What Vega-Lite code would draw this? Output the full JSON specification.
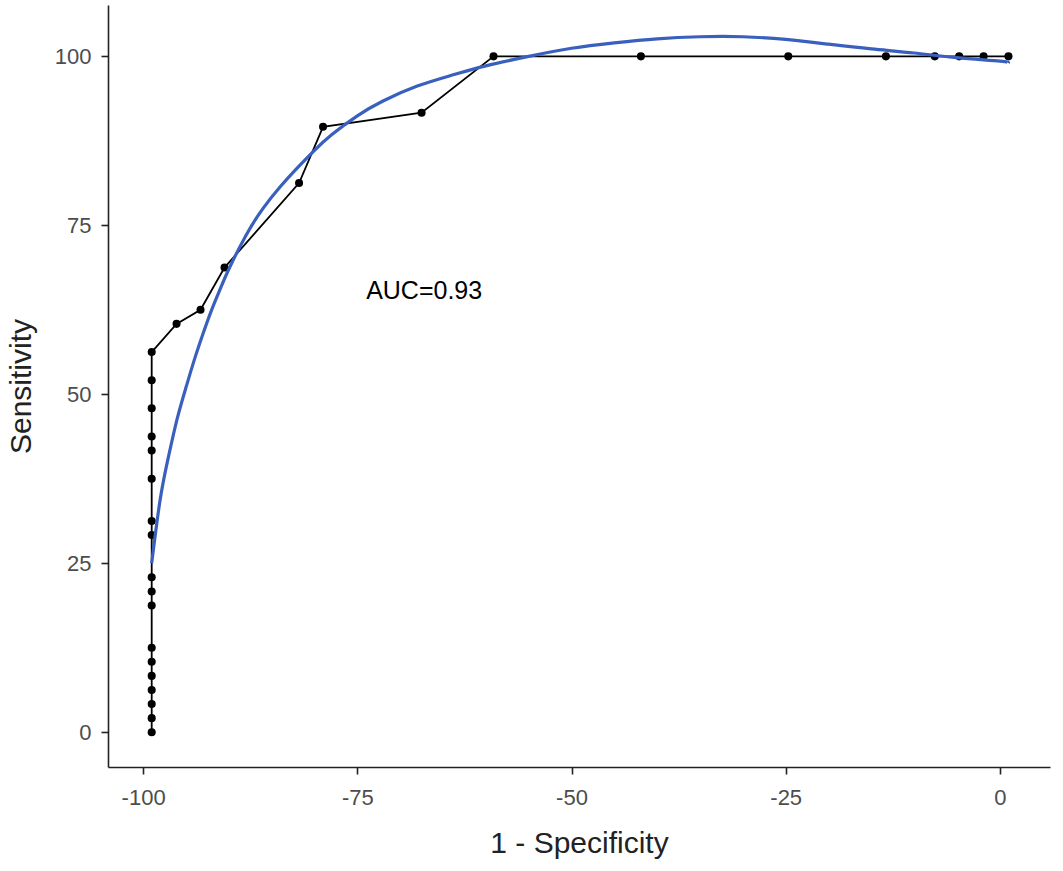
{
  "$schema": "https://vega.github.io/schema/vega-lite/v6.json",
  "autosize": "none",
  "width": 942,
  "height": 762,
  "padding": {"left": 108, "top": 5, "right": 13, "bottom": 104},
  "background": "white",
  "config": {
    "view": {"stroke": null},
    "font": "Liberation Sans",
    "axis": {
      "grid": false,
      "domainColor": "#222222",
      "domainWidth": 1.6,
      "tickColor": "#222222",
      "tickWidth": 1.6,
      "tickSize": 7,
      "labelColor": "#4d4d4d",
      "labelFontSize": 22,
      "titleFontSize": 30,
      "titleFontWeight": "normal",
      "titleColor": "#222222"
    }
  },
  "datasets": {
    "roc": [
      {"i": 1, "fpr": -99, "sens": 0},
      {"i": 2, "fpr": -99, "sens": 2.08},
      {"i": 3, "fpr": -99, "sens": 4.17},
      {"i": 4, "fpr": -99, "sens": 6.25},
      {"i": 5, "fpr": -99, "sens": 8.33},
      {"i": 6, "fpr": -99, "sens": 10.42},
      {"i": 7, "fpr": -99, "sens": 12.5},
      {"i": 8, "fpr": -99, "sens": 18.75},
      {"i": 9, "fpr": -99, "sens": 20.83},
      {"i": 10, "fpr": -99, "sens": 22.92},
      {"i": 11, "fpr": -99, "sens": 29.17},
      {"i": 12, "fpr": -99, "sens": 31.25},
      {"i": 13, "fpr": -99, "sens": 37.5},
      {"i": 14, "fpr": -99, "sens": 41.67},
      {"i": 15, "fpr": -99, "sens": 43.75},
      {"i": 16, "fpr": -99, "sens": 47.92},
      {"i": 17, "fpr": -99, "sens": 52.08},
      {"i": 18, "fpr": -99, "sens": 56.25},
      {"i": 19, "fpr": -96.1, "sens": 60.42},
      {"i": 20, "fpr": -93.3, "sens": 62.5},
      {"i": 21, "fpr": -90.5, "sens": 68.75},
      {"i": 22, "fpr": -81.8, "sens": 81.25},
      {"i": 23, "fpr": -79.0, "sens": 89.58},
      {"i": 24, "fpr": -67.5, "sens": 91.67},
      {"i": 25, "fpr": -59.1, "sens": 100},
      {"i": 26, "fpr": -41.9, "sens": 100},
      {"i": 27, "fpr": -24.7, "sens": 100},
      {"i": 28, "fpr": -13.3, "sens": 100},
      {"i": 29, "fpr": -7.6, "sens": 100},
      {"i": 30, "fpr": -4.75, "sens": 100},
      {"i": 31, "fpr": -1.9, "sens": 100},
      {"i": 32, "fpr": 1.0, "sens": 100}
    ],
    "smooth": [
      {"fpr": -99, "sens": 25},
      {"fpr": -98, "sens": 34.5},
      {"fpr": -97, "sens": 41},
      {"fpr": -96, "sens": 46.5},
      {"fpr": -95, "sens": 51},
      {"fpr": -94, "sens": 55.2},
      {"fpr": -93, "sens": 59},
      {"fpr": -92, "sens": 62.5},
      {"fpr": -91, "sens": 65.6},
      {"fpr": -90, "sens": 68.5},
      {"fpr": -88, "sens": 73.5},
      {"fpr": -86, "sens": 77.5},
      {"fpr": -84, "sens": 80.7},
      {"fpr": -82, "sens": 83.5},
      {"fpr": -80, "sens": 86.1},
      {"fpr": -78, "sens": 88.4},
      {"fpr": -75, "sens": 91.2},
      {"fpr": -72, "sens": 93.4},
      {"fpr": -68, "sens": 95.6},
      {"fpr": -64, "sens": 97.2},
      {"fpr": -60, "sens": 98.6},
      {"fpr": -55, "sens": 100},
      {"fpr": -50, "sens": 101.2},
      {"fpr": -45, "sens": 102.0},
      {"fpr": -40, "sens": 102.6},
      {"fpr": -35, "sens": 102.9},
      {"fpr": -30, "sens": 102.9},
      {"fpr": -25, "sens": 102.5},
      {"fpr": -20, "sens": 101.8},
      {"fpr": -15, "sens": 101.1},
      {"fpr": -10, "sens": 100.5},
      {"fpr": -5, "sens": 99.8},
      {"fpr": 0, "sens": 99.3},
      {"fpr": 1, "sens": 99.0}
    ]
  },
  "layer": [
    {
      "data": {"name": "roc"},
      "mark": {"type": "line", "color": "black", "strokeWidth": 1.8},
      "encoding": {
        "x": {"field": "fpr", "type": "quantitative", "scale": {"domain": [-104.1, 5.85], "nice": false, "zero": false},
              "axis": {"values": [-100, -75, -50, -25, 0], "labelExpr": "'' + datum.value", "labelPadding": 13, "title": "1 - Specificity", "titlePadding": 20}},
        "y": {"field": "sens", "type": "quantitative", "scale": {"domain": [-5.15, 107.6], "nice": false, "zero": false},
              "axis": {"values": [0, 25, 50, 75, 100], "labelPadding": 10, "title": "Sensitivity", "titlePadding": 18}},
        "order": {"field": "i", "type": "quantitative"}
      }
    },
    {
      "data": {"name": "roc"},
      "mark": {"type": "point", "filled": true, "color": "black", "size": 65, "opacity": 1},
      "encoding": {
        "x": {"field": "fpr", "type": "quantitative"},
        "y": {"field": "sens", "type": "quantitative"}
      }
    },
    {
      "data": {"name": "smooth"},
      "mark": {"type": "line", "color": "#3a60bd", "strokeWidth": 3.2, "interpolate": "natural"},
      "encoding": {
        "x": {"field": "fpr", "type": "quantitative"},
        "y": {"field": "sens", "type": "quantitative"}
      }
    },
    {
      "data": {"values": [{"fpr": -67.2, "sens": 65.3, "label": "AUC=0.93"}]},
      "mark": {"type": "text", "fontSize": 25, "color": "black", "align": "center", "baseline": "middle"},
      "encoding": {
        "x": {"field": "fpr", "type": "quantitative"},
        "y": {"field": "sens", "type": "quantitative"},
        "text": {"field": "label"}
      }
    }
  ]
}
